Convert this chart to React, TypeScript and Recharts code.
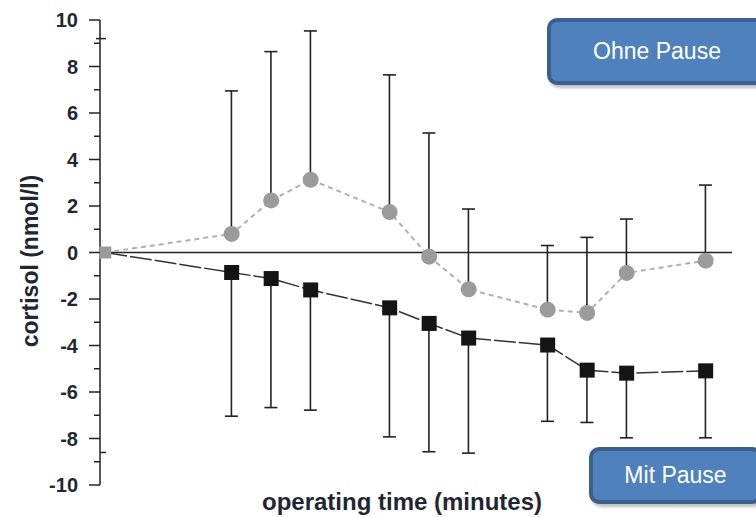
import React from "react"
import { ComposedChart, Line, Bar, XAxis, YAxis, ReferenceLine } from "recharts"

// operating time (minutes)
const times = [-8, 40, 55, 70, 100, 115, 130, 160, 175, 190, 220]
// cortisol change, "Ohne Pause" (grey circles) and its upper SD
const ohne = [0, 0.8, 2.24, 3.13, 1.74, -0.18, -1.58, -2.46, -2.6, -0.88, -0.35]
const ohneSd = [0, 6.15, 6.4, 6.4, 5.9, 5.32, 3.45, 2.76, 3.25, 2.32, 3.25]
// cortisol change, "Mit Pause" (black squares) and its lower SD
const mit = [0, -0.86, -1.12, -1.61, -2.38, -3.05, -3.68, -3.98, -5.06, -5.19, -5.09]
const mitSd = [0, 6.18, 5.55, 5.17, 5.55, 5.52, 4.95, 3.28, 2.25, 2.78, 2.88]

const xTicks = [0, 15, 30, 45, 60, 75, 90, 105, 120, 135, 150, 165, 180, 195, 210, 225]
const yTicks = [-10, -9, -8, -7, -6, -5, -4, -3, -2, -1, 0, 1, 2, 3, 4, 5, 6, 7, 8, 9, 10]

const W = 756
const H = 518
const PLOT_TOP = 20
const PLOT_BOTTOM = 485
const ZERO_Y = (PLOT_TOP + PLOT_BOTTOM) / 2
const FONT = "'Liberation Sans', Arial, sans-serif"
const INK = "#1f2733"
const CAP = 13
const X_DOMAIN = [-10, 230]

const data = times.map((t, i) => ({
  t,
  ohne: ohne[i],
  ohneRange: ohneSd[i] ? [ohne[i], ohne[i] + ohneSd[i]] : null,
  mit: mit[i],
  mitRange: mitSd[i] ? [mit[i] - mitSd[i], mit[i]] : null,
}))

function XTick({ x, payload }: any) {
  const v = payload.value
  return (
    <g>
      <line x1={x} x2={x} y1={ZERO_Y} y2={ZERO_Y + 6} stroke="#222" strokeWidth={1.5} />
      {v % 30 === 0 && (
        <text x={x} y={ZERO_Y + 29} textAnchor="middle" fontFamily={FONT} fontWeight="bold" fontSize={20} fill={INK}>
          {v}
        </text>
      )}
    </g>
  )
}

function YTick({ x, y, payload }: any) {
  const v = payload.value
  const major = v % 2 === 0
  return (
    <g>
      <line x1={x - (major ? 11 : 6)} x2={x} y1={y} y2={y} stroke="#222" strokeWidth={1.5} />
      {major && (
        <text x={x - 22} y={y + 7} textAnchor="end" fontFamily={FONT} fontWeight="bold" fontSize={20} fill={INK}>
          {v}
        </text>
      )}
    </g>
  )
}

// one-sided error whisker: a vertical line with a cap at the far end only
function whisker(capAtTop: boolean) {
  return (p: any) => {
    if (p.height == null || p.width == null || isNaN(p.y)) return <g key={`w${p.index}`} />
    const cx = p.x + p.width / 2
    const top = Math.min(p.y, p.y + p.height)
    const bottom = Math.max(p.y, p.y + p.height)
    const capY = capAtTop ? top : bottom
    return (
      <g key={`w${p.index}`}>
        <line x1={cx} x2={cx} y1={top} y2={bottom} stroke="#222" strokeWidth={1.6} />
        <line x1={cx - CAP / 2} x2={cx + CAP / 2} y1={capY} y2={capY} stroke="#222" strokeWidth={1.6} />
      </g>
    )
  }
}

function OhneDot(p: any) {
  if (p.index === 0) return <g key={`o${p.index}`} />
  return <circle key={`o${p.index}`} cx={p.cx} cy={p.cy} r={8} fill="#9b9b9b" />
}

function MitDot(p: any) {
  const s = p.index === 0 ? 12 : 15
  return (
    <rect
      key={`m${p.index}`}
      x={p.cx - s / 2}
      y={p.cy - s / 2}
      width={s}
      height={s}
      fill={p.index === 0 ? "#9b9b9b" : "#141414"}
    />
  )
}

const boxStyle: React.CSSProperties = {
  position: "absolute",
  boxSizing: "border-box",
  background: "#4f81bd",
  border: "4px solid #3a6090",
  borderRadius: 10,
  color: "#fff",
  fontFamily: FONT,
  fontSize: 23,
  display: "flex",
  alignItems: "center",
  justifyContent: "center",
  boxShadow: "2px 3px 3px rgba(0,0,0,0.25)",
}

export default function App() {
  return (
    <div style={{ position: "absolute", left: 0, top: 0, width: W, height: H, overflow: "hidden", background: "#fff" }}>
      <ComposedChart
        width={W}
        height={H}
        data={data}
        margin={{ top: PLOT_TOP, right: 24, bottom: H - PLOT_BOTTOM, left: 0 }}
      >
        <XAxis
          xAxisId="main"
          type="number"
          dataKey="t"
          domain={X_DOMAIN}
          ticks={xTicks}
          interval={0}
          height={0}
          axisLine={false}
          tickLine={false}
          tick={<XTick />}
        />
        <XAxis xAxisId="alt" type="number" dataKey="t" domain={X_DOMAIN} hide />
        <YAxis
          type="number"
          domain={[-10, 10]}
          ticks={yTicks}
          interval={0}
          width={100}
          tickSize={0}
          tickMargin={0}
          axisLine={{ stroke: "#222", strokeWidth: 1.5 }}
          tickLine={false}
          tick={<YTick />}
        />
        <ReferenceLine xAxisId="main" y={0} stroke="#222" strokeWidth={1.5} />
        <ReferenceLine
          xAxisId="main"
          segment={[{ x: -11.5, y: 9.2 }, { x: -7.7, y: 9.2 }]}
          stroke="#222"
          strokeWidth={1.5}
          ifOverflow="visible"
        />
        <ReferenceLine
          xAxisId="main"
          segment={[{ x: -10, y: -8.6 }, { x: -7.7, y: -8.6 }]}
          stroke="#222"
          strokeWidth={1.5}
          ifOverflow="visible"
        />
        <Bar dataKey="ohneRange" xAxisId="main" barSize={CAP} shape={whisker(true)} isAnimationActive={false} />
        <Bar dataKey="mitRange" xAxisId="alt" barSize={CAP} shape={whisker(false)} isAnimationActive={false} />
        <Line
          xAxisId="main"
          dataKey="ohne"
          stroke="#b0b0b0"
          strokeWidth={2}
          strokeDasharray="5 4"
          dot={OhneDot}
          activeDot={false}
          isAnimationActive={false}
        />
        <Line
          xAxisId="main"
          dataKey="mit"
          stroke="#333"
          strokeWidth={1.5}
          strokeDasharray="22 3"
          dot={MitDot}
          activeDot={false}
          isAnimationActive={false}
        />
        <text
          x={30}
          y={261}
          transform="rotate(-90 30 261)"
          textAnchor="middle"
          dominantBaseline="central"
          fontFamily={FONT}
          fontWeight="bold"
          fontSize={23}
          fill={INK}
        >
          cortisol (nmol/l)
        </text>
        <text x={402} y={510} textAnchor="middle" fontFamily={FONT} fontWeight="bold" fontSize={24} fill={INK}>
          operating time (minutes)
        </text>
      </ComposedChart>
      <div style={{ ...boxStyle, left: 547, top: 18, width: 220, height: 67 }}>Ohne Pause</div>
      <div style={{ ...boxStyle, left: 589, top: 447, width: 173, height: 57 }}>Mit Pause</div>
    </div>
  )
}
